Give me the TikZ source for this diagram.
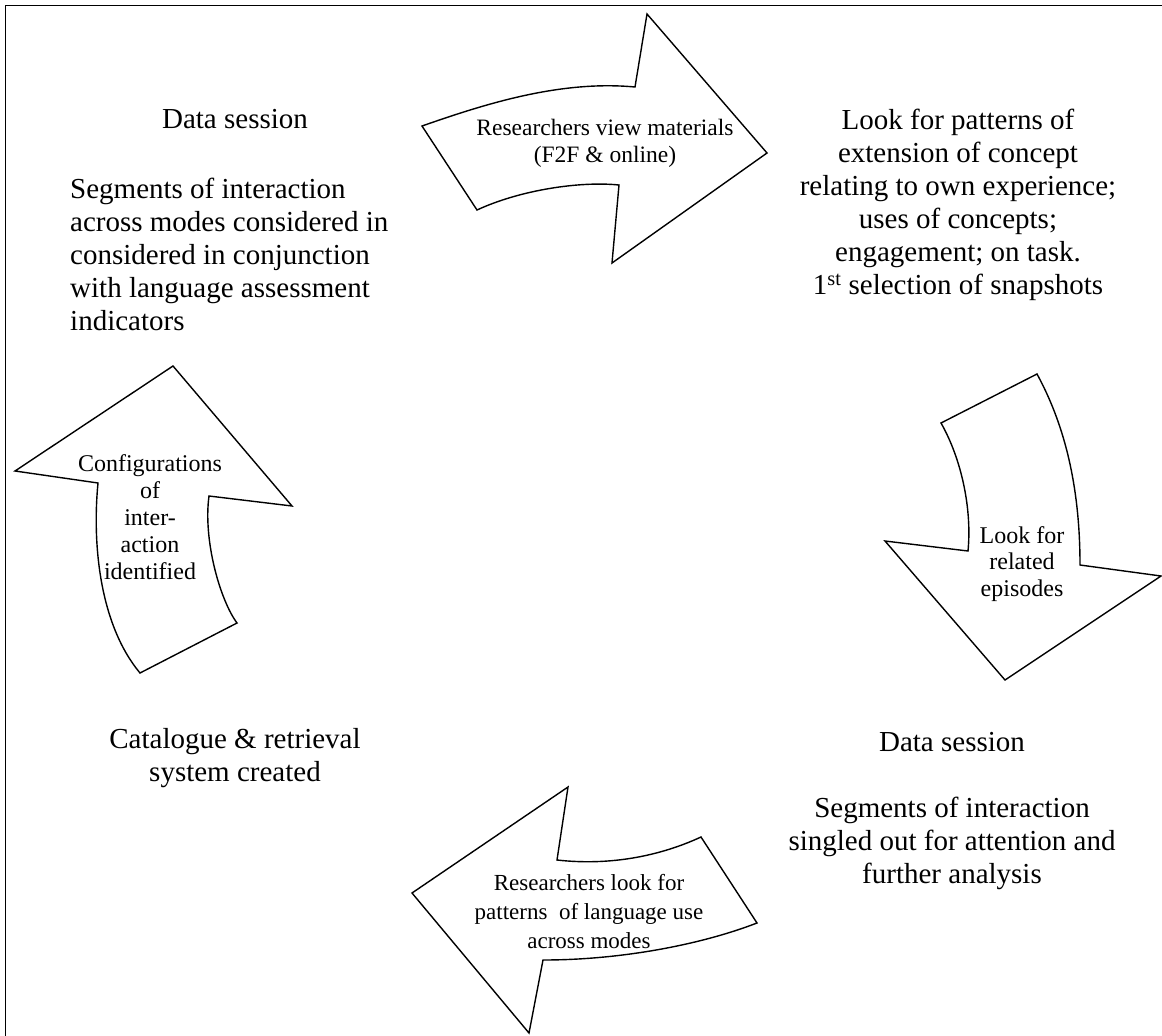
\documentclass[tikz,border=0pt]{standalone}
\usepackage{fontspec}
\setmainfont{Liberation Serif}
\begin{document}
\begin{tikzpicture}[x=1pt,y=-1pt,
  big/.style={font=\fontsize{29}{33}\selectfont, inner sep=0pt},
  small/.style={font=\fontsize{23.5}{27}\selectfont, inner sep=0pt, align=center},
  arrowshape/.style={draw=black, line width=1.4pt, line join=miter, fill=white}]
\useasboundingbox (0,0) rectangle (1162,1036);
% frame (top and left edges only visible)
\draw[line width=1.8pt] (1162,5.5) -- (5.5,5.5) -- (5.5,1036);

% top arrow (right-pointing)
\draw[arrowshape] (422,126) .. controls (485,104) and (560,80) .. (635,87)
  -- (647,14) -- (767,153) -- (612,263) -- (619,185)
  .. controls (580,181) and (520,190) .. (477,210) -- cycle;
% right arrow (down-pointing)
\draw[arrowshape] (941,423) -- (1037,374)
  .. controls (1062,420) and (1080,480) .. (1080,565)
  -- (1161,576) -- (1005,680) -- (885,541) -- (968,551)
  .. controls (972,510) and (962,460) .. (941,423) -- cycle;
% bottom arrow (left-pointing)
\draw[arrowshape] (568,787) -- (557,860)
  .. controls (610,866) and (660,856) .. (701,837)
  -- (757,923)
  .. controls (700,945) and (620,960) .. (543,960)
  -- (529,1033) -- (412,893) -- cycle;
% left arrow (up-pointing)
\draw[arrowshape] (173,366) -- (292,506) -- (209,496)
  .. controls (203,540) and (220,600) .. (237,623)
  -- (140,673)
  .. controls (100,625) and (92,545) .. (98,483)
  -- (15,471) -- cycle;

% texts
\node[big] (tlTitle) at (235,119) {Data session};
\node[big, align=left, anchor=west] (tlBody) at (70,254)
  {Segments of interaction\\across modes considered in\\considered in conjunction\\with language assessment\\indicators};
\node[big, align=center] (trBody) at (958,205)
  {Look for patterns of\\extension of concept\\relating to own experience;\\uses of concepts;\\engagement; on task.\\1\textsuperscript{st} selection of snapshots};
\node[big] (brTitle) at (952,742) {Data session};
\node[big, align=center] (brBody) at (952,843)
  {Segments of interaction\\singled out for attention and\\further analysis};
\node[big, align=center] (blBody) at (235,758)
  {Catalogue \& retrieval\\system created};

\node[small] (topLbl) at (605,143) {Researchers view materials\\(F2F \& online)};
\node[small, font=\fontsize{24}{26.5}\selectfont] (rightLbl) at (1022,564) {Look for\\related\\episodes};
\node[small, font=\fontsize{24}{27}\selectfont] (leftLbl) at (150,517) {Configurations\\of\\inter-\\action\\identified};
\node[small, font=\fontsize{23}{29}\selectfont] (bottomLbl) at (589,912) {Researchers look for\\patterns~ of language use\\across modes};
\end{tikzpicture}
\end{document}
